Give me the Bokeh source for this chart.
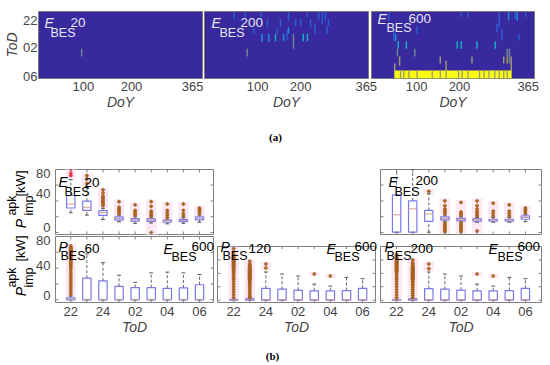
from bokeh.plotting import figure
from bokeh.layouts import column, row
from bokeh.models import Range1d, LinearAxis, FixedTicker, Label
from bokeh.embed import file_html
from bokeh.resources import INLINE
import math

FONT = "Liberation Sans"
COLORS = {1: "#2a5fd8", 2: "#1f8fe0", 3: "#1ab2c6", 4: "#6f8a90", 5: "#a09a70", 6: "#f9fb15"}
BG = "#38299e"

# Heat-map stripes: (DoY, hour after 22:00 start, hour end, colour level)
stripes_20 = [(96, 5.0, 6.05, 4)]
stripes_200 = [
    (65, 0.09, 1.0, 1), (91, 0.09, 0.76, 1), (110, 2.3, 3.0, 1), (126, 0.09, 0.76, 1), (140, 1.0, 2.1, 1),
    (128, 3.0, 4.1, 2), (143, 3.0, 4.1, 2), (95, 5.0, 6.05, 4), (158, 3.0, 4.0, 3), (162, 2.3, 3.0, 1),
    (169, 1.0, 2.1, 1), (176, 3.0, 4.0, 2), (184, 2.6, 3.9, 1), (187, 0.09, 1.2, 1), (187, 2.1, 3.0, 2),
    (198, 3.0, 5.0, 4), (203, 1.0, 1.9, 1), (214, 1.0, 1.9, 1), (220, 3.0, 4.0, 3), (229, 0.09, 0.76, 1),
    (229, 3.0, 4.0, 3), (236, 1.0, 2.1, 1), (246, 1.66, 3.0, 1), (254, 0.09, 1.2, 1), (262, 0.09, 1.66, 1),
    (269, 0.09, 1.2, 1), (273, 1.9, 3.0, 1), (276, 1.0, 1.9, 1),
]
stripes_600 = [
    (39, 0.09, 1.2, 1), (50, 2.6, 4.0, 1), (102, 1.9, 3.0, 1), (54, 3.0, 4.0, 2), (60, 4.0, 5.0, 3),
    (78, 4.0, 5.0, 3), (97, 5.0, 6.05, 4), (58, 5.0, 6.05, 4), (63, 6.05, 7.3, 5), (52, 7.0, 9.0, 5),
    (154, 6.05, 7.0, 5), (167, 6.6, 9.0, 5), (225, 6.05, 7.0, 5), (192, 4.0, 5.0, 3), (201, 4.0, 5.0, 3),
    (236, 4.0, 5.0, 3), (277, 4.0, 5.0, 3), (201, 0.09, 0.76, 1), (216, 0.09, 0.76, 1), (286, 0.09, 2.1, 1),
    (292, 2.3, 3.9, 1), (307, 0.09, 1.2, 2), (321, 0.09, 1.0, 1), (326, 0.09, 1.2, 2), (345, 0.09, 0.76, 1),
    (281, 1.66, 2.8, 1), (330, 3.0, 3.9, 1), (304, 5.0, 6.05, 4), (309, 5.0, 7.0, 4), (296, 6.05, 7.0, 5),
    (313, 6.05, 9.0, 5), (304, 6.05, 7.0, 5),
]
yellow_doy = [52, 313]
yellow_hours = [7.93, 9.0]
yellow_gaps = [65, 72, 84, 102, 136, 154, 167, 195, 203, 216, 242, 252, 263, 276, 286, 296, 304]

# Box statistics, kW
tl_q1 = [31, 28, 21.6, 15.6, 14.5, 14, 13, 13.7, 16]
tl_med = [36, 32, 25, 17.7, 16, 15.8, 14.5, 15.4, 18]
tl_q3 = [46.8, 39.6, 27.8, 19.8, 17.7, 17.3, 15.8, 16.6, 19.8]
tl_lo = [25, 22, 16.5, 13.5, 11.6, 12, 11, 11.6, 13]
tl_hi = [67, 57, 30.6, 22, 19.8, 19, 17, 18.8, 22]
tl_out = [[72, 75, 80], [62, 68, 72], [34, 36, 38, 40, 42, 44, 46, 50, 54], [24, 26, 28, 30, 32, 39],
          [22, 24, 26, 28, 35], [0, 21, 23, 25, 27, 33, 39], [19, 22, 25, 28, 36], [21, 24, 28, 36], [24, 26, 28, 30, 31]]

tr_q1 = [0.5, 0.5, 14, 16, 14.8, 14.5, 14.5, 14.5, 16.8]
tr_med = [22.4, 30, 23.4, 18, 16.8, 16, 15.8, 15.8, 19]
tr_q3 = [47.7, 40, 28, 19.8, 18, 17.3, 16.8, 16.8, 21]
tr_lo = [0, 0, 0.5, 14, 13.5, 13, 13, 13, 13.6]
tr_hi = [81, 80, 49, 22, 20, 19, 18.8, 18.8, 23]
tr_out = [[], [], [52], [1, 2, 4, 6, 8, 10, 12, 24, 26, 28, 30, 34, 40], [1, 2, 4, 6, 8, 10, 12, 22, 24, 26, 38],
          [2, 21, 23, 25, 27, 30, 34, 40], [21, 24, 27, 37], [21, 24, 27, 35], [25, 27, 29, 31]]

bl_q1 = [0, 0, 0, 0, 0, 0, 0, 0, 0]
bl_med = [0.5, 0.5, 0.5, 0.5, 0.5, 0.5, 0.5, 0.5, 0.5]
bl_q3 = [2.5, 27.4, 24, 17, 15.5, 15.3, 14.5, 15, 19]
bl_lo = [0, 0, 0, 0, 0, 0, 0, 0, 0]
bl_hi = [4.7, 58, 47, 31, 22, 34, 35, 34, 32]
bl_out = [[7, 10, 13, 16, 19, 22, 25, 28, 31, 34, 37, 40, 42, 44, 46, 48, 50, 52, 54, 55, 56, 57, 58, 59, 60, 61, 62, 63, 64, 65, 66, 68],
          [], [], [], [], [], [], [], []]

bm_q1 = [0, 0, 0, 0, 0, 0, 0, 0, 0]
bm_med = [0.5, 0.5, 0.5, 0.5, 0.5, 0.5, 0.5, 0.5, 0.5]
bm_q3 = [1, 2, 17.7, 16.4, 14.9, 14, 14, 14.4, 17.7]
bm_lo = [0, 0, 0, 0, 0, 0, 0, 0, 0]
bm_hi = [2, 3, 42, 39, 36, 24, 21, 34, 32]
bm_out = [[4, 8, 12, 16, 20, 24, 28, 31, 34, 37, 40, 42, 44, 46, 48, 50, 51, 52, 53, 54, 55, 56, 57, 58, 59, 60, 61, 62, 63, 64, 66, 68, 72, 77],
          [4, 6, 9, 12, 15, 18, 21, 24, 26, 28, 30, 31, 32, 33, 34, 35, 36, 37, 38, 39, 40, 41, 42, 43, 44, 45, 46, 47, 48, 49, 50, 52, 54, 58],
          [48, 54], [], [], [39], [36], [], []]

br_q1 = [0, 0, 0, 0, 0, 0, 0, 0, 0]
br_med = [0.5, 0.5, 0.5, 0.5, 0.5, 0.5, 0.5, 0.5, 0.5]
br_q3 = [1, 2, 17.2, 16.4, 14.9, 14, 14, 14.4, 17.7]
br_lo = [0, 0, 0, 0, 0, 0, 0, 0, 0]
br_hi = [2, 3, 42, 39, 36, 24, 21, 34, 32]
br_out = [[4, 8, 12, 16, 20, 24, 28, 31, 34, 37, 40, 42, 43, 44, 45, 46, 47, 48, 49, 50, 51, 52, 53, 54, 55, 56, 57, 58, 59, 60, 62, 64, 66, 68],
          [4, 7, 10, 13, 16, 19, 22, 24, 26, 28, 30, 31, 32, 33, 34, 35, 36, 37, 38, 39, 40, 41, 42, 43, 44, 45, 46, 47, 48, 49, 50, 52, 54, 56, 60],
          [47, 54], [], [], [39], [36], [], []]

box_tod_ticks = [1, 3, 5, 7, 9]
box_tod_labels = ["22", "24", "02", "04", "06"]
kw_ticks = [0, 20, 40, 60, 80]
heat_hours = [1.2, 4.84, 8.74]
heat_hour_labels = ["22", "02", "06"]
heat_ticks_20 = [100, 207, 346]
heat_ticks_200 = [118, 214, 360]
heat_ticks_600 = [101, 197, 351]
doy_labels = ["100", "200", "365"]

PAGE_W, PAGE_H = 542, 362


def make_fig(L, T, R, B, fL, fT, fR, fB, xr, yr, ml=0, mt=0):
    p = figure(width=R - L, height=B - T, x_range=xr, y_range=yr, x_axis_type=None, y_axis_type=None,
               output_backend="svg", toolbar_location=None, tools="",
               min_border_left=fL - L, min_border_top=fT - T, min_border_right=R - fR, min_border_bottom=B - fB,
               margin=(mt, 0, 0, ml), border_fill_color=None, background_fill_color=None)
    p.grid.visible = False
    p.outline_line_color = "#808080"
    p.outline_line_width = 1
    return p


# Transparent layer over the whole page that holds the free texts
ann = make_fig(0, 0, PAGE_W, PAGE_H, 0, 0, PAGE_W, PAGE_H, Range1d(0, PAGE_W), Range1d(PAGE_H, 0), mt=-PAGE_H)
ann.outline_line_color = None


def put(x, y, text, size=13, color="#000000", style="normal", angle=0, align="left", font=FONT):
    ann.add_layout(Label(x=x, y=y, text=text, text_font=font, text_font_size=f"{size}px", text_color=color,
                         text_font_style=style, text_baseline="middle", text_align=align, angle=angle))


def heat(L, R, fL, fR, stripes, ticks, ml, ylab):
    p = make_fig(L, 0, R, 148, fL, 11, fR, 78, Range1d(0, 365), Range1d(9, 0), ml=ml)
    p.background_fill_color = BG
    p.outline_line_color = "#7a7a7a"
    p.quad(left=[s[0] - 1.6 for s in stripes], right=[s[0] + 1.6 for s in stripes],
           top=[s[1] for s in stripes], bottom=[s[2] for s in stripes],
           fill_color=[COLORS[s[3]] for s in stripes], line_color=None)
    ax = LinearAxis(ticker=FixedTicker(ticks=ticks), major_label_overrides=dict(zip(ticks, doy_labels)),
                    axis_label="DoY", axis_label_text_font=FONT, axis_label_text_font_style="italic",
                    axis_label_text_font_size="14px", major_label_text_font=FONT, major_label_text_font_size="13px",
                    major_tick_in=0, major_tick_out=0, axis_line_color=None, major_label_standoff=3,
                    axis_label_standoff=0)
    p.add_layout(ax, "below")
    if ylab:
        ay = LinearAxis(ticker=FixedTicker(ticks=heat_hours), major_label_overrides=dict(zip(heat_hours, heat_hour_labels)),
                        axis_label="ToD", axis_label_text_font=FONT, axis_label_text_font_style="italic",
                        axis_label_text_font_size="14px", major_label_text_font=FONT, major_label_text_font_size="13px",
                        major_tick_in=0, major_tick_out=0, axis_line_color=None, major_label_standoff=1,
                        axis_label_standoff=0, major_label_orientation="horizontal")
        p.add_layout(ay, "left")
    return p


def inner_ticks(p, xr, yr, xs):
    tx = (xr[1] - xr[0]) * 3 / (p.width - p.min_border_left - p.min_border_right)
    ty = (yr[1] - yr[0]) * 3 / (p.height - p.min_border_top - p.min_border_bottom)
    c = "#808080"
    p.segment(xs, [yr[1]] * 9, xs, [yr[1] - ty] * 9, line_color=c, line_width=1)
    p.segment(xs, [yr[0]] * 9, xs, [yr[0] + ty] * 9, line_color=c, line_width=1)
    p.segment([xr[0]] * 5, kw_ticks, [xr[0] + tx] * 5, kw_ticks, line_color=c, line_width=1)
    p.segment([xr[1]] * 5, kw_ticks, [xr[1] - tx] * 5, kw_ticks, line_color=c, line_width=1)


def boxes(rect, frame, xr, yr, q1, med, q3, lo, hi, out, ml=0, mt=0, show_x=False, show_y=None, red=()):
    L, T, R, B = rect
    fL, fT, fR, fB = frame
    p = make_fig(L, T, R, B, fL, fT, fR, fB, Range1d(*xr), Range1d(*yr), ml=ml, mt=mt)
    xs = list(range(1, 10))
    idx = [i for i in range(9) if out[i]]
    p.quad(left=[xs[i] - 0.33 for i in idx], right=[xs[i] + 0.33 for i in idx],
           bottom=[min(out[i]) - 3 for i in idx], top=[max(out[i]) + 3 for i in idx],
           fill_color="#fce8f5", line_color=None)
    p.segment(xs, q3, xs, hi, line_color="#666666", line_width=1, line_dash="3 2")
    p.segment(xs, lo, xs, q1, line_color="#666666", line_width=1, line_dash="3 2")
    p.segment([x - 0.12 for x in xs], hi, [x + 0.12 for x in xs], hi, line_color="#555555", line_width=1)
    p.segment([x - 0.12 for x in xs], lo, [x + 0.12 for x in xs], lo, line_color="#555555", line_width=1)
    p.quad(left=[x - 0.26 for x in xs], right=[x + 0.26 for x in xs], bottom=q1, top=q3,
           fill_color="#ffffff", fill_alpha=0.6, line_color="#7a78ee", line_width=1.2)
    p.segment([x - 0.26 for x in xs], med, [x + 0.26 for x in xs], med, line_color="#d09a90", line_width=1)
    ox, oy, oc = [], [], []
    for i in range(9):
        for v in out[i]:
            ox.append(xs[i]); oy.append(v)
            oc.append("#f0303f" if i in red else "#a8651f")
    p.scatter(ox, oy, marker="plus", size=3, line_color=oc, fill_color=oc, line_width=0.8)
    inner_ticks(p, xr, yr, xs)
    if show_y:
        ay = LinearAxis(ticker=FixedTicker(ticks=list(show_y)), major_label_overrides=show_y,
                        major_label_text_font=FONT, major_label_text_font_size="13px",
                        major_tick_in=0, major_tick_out=0, axis_line_color=None, major_label_standoff=5,
                        major_label_orientation="horizontal")
        p.add_layout(ay, "left")
    if show_x:
        ax = LinearAxis(ticker=FixedTicker(ticks=box_tod_ticks),
                        major_label_overrides=dict(zip(box_tod_ticks, box_tod_labels)),
                        axis_label="ToD", axis_label_text_font=FONT, axis_label_text_font_style="italic",
                        axis_label_text_font_size="14px", major_label_text_font=FONT, major_label_text_font_size="13px",
                        major_tick_in=0, major_tick_out=0, axis_line_color=None,
                        major_label_standoff=4, axis_label_standoff=0)
        p.add_layout(ax, "below")
    return p


def sub_label(letter, xl, yl, xb, yb, val, xv, yv, color="#000000"):
    put(xl, yl, letter, size=14, color=color, style="italic")
    put(xb, yb, "BES", size=12.5, color=color)
    put(xv, yv, val, size=13.5, color=color)


def y_title(x, yp, ysup, ykw):
    a = math.pi / 2
    put(x, yp, "P", size=14, style="italic", angle=a, align="center")
    put(x - 9, ysup, "apk", size=12.5, angle=a, align="center")
    put(x + 8, ysup, "imp", size=12.5, angle=a, align="center")
    put(x, ykw, "[kW]", size=13, angle=a, align="center")


# Row a
h1 = heat(0, 203, 38, 202, stripes_20, heat_ticks_20, 0, True)
h2 = heat(203, 380, 204, 368, stripes_200, heat_ticks_200, 0, False)
h3 = heat(370, 542, 371, 534, stripes_600, heat_ticks_600, -10, False)
h3.quad(left=yellow_doy[0], right=yellow_doy[1], top=yellow_hours[0], bottom=yellow_hours[1],
        fill_color=COLORS[6], line_color=None)
h3.quad(left=[g - 1.5 for g in yellow_gaps], right=[g + 1.5 for g in yellow_gaps],
        top=yellow_hours[0], bottom=yellow_hours[1], fill_color=COLORS[5], line_color=None)
W = "#e6e6f2"
sub_label("E", 44, 22, 50, 32, "20", 70, 22, W)
sub_label("E", 211, 22, 219, 32, "200", 240, 22, W)
sub_label("E", 377, 18, 386, 27, "600", 408, 18, W)
put(275, 136, "(a)", size=11, style="bold", align="center", font="Liberation Serif")

# Row b, top
XR = (0.05, 9.87)
YT = (-2.5, 79.7)
YB = (-3.4, 80)
b1 = boxes((0, 148, 215, 235), (55, 169, 213, 234), XR, YT, tl_q1, tl_med, tl_q3, tl_lo, tl_hi, tl_out,
           show_y={75: "80", 49: "40", 6: "0"}, red=(0,))
b3 = boxes((379, 148, 542, 235), (380, 169, 541, 234), (0, 10), YT, tr_q1, tr_med, tr_q3, tr_lo, tr_hi, tr_out, ml=164)
sub_label("E", 58, 181, 64, 191, "20", 84, 182)
sub_label("E", 388, 181, 394, 191, "200", 415, 180)
y_title(20, 223, 205, 183)

# Row b, bottom
b4 = boxes((0, 225, 215, 362), (55, 236, 213, 302), XR, YB, bl_q1, bl_med, bl_q3, bl_lo, bl_hi, bl_out,
           mt=-10, show_x=True, show_y={75: "80", 43: "40", 5.5: "0"})
b5 = boxes((215, 235, 378, 362), (217, 236, 375, 302), (0, 9.8), YB, bm_q1, bm_med, bm_q3, bm_lo, bm_hi, bm_out, show_x=True)
b6 = boxes((379, 235, 542, 362), (380, 236, 541, 302), (0, 10), YB, br_q1, br_med, br_q3, br_lo, br_hi, br_out, ml=1, show_x=True)
sub_label("P", 58, 246, 60, 255, "60", 84, 248)
sub_label("E", 163, 248, 171, 256, "600", 191, 246)
sub_label("P", 220, 246, 222, 255, "120", 248, 248)
sub_label("E", 326, 248, 334, 256, "600", 354, 246)
sub_label("P", 384, 246, 386, 255, "200", 410, 248)
sub_label("E", 488, 248, 497, 256, "600", 517, 246)
y_title(20, 291, 277, 248)
put(272, 355, "(b)", size=11, style="bold", align="center", font="Liberation Serif")

page = column(row(h1, h2, h3, spacing=0, margin=0),
              row(b1, b3, spacing=0, margin=0),
              row(b4, b5, b6, spacing=0, margin=0),
              ann, spacing=0, margin=0)
open("out.html", "w").write(file_html(page, INLINE))
